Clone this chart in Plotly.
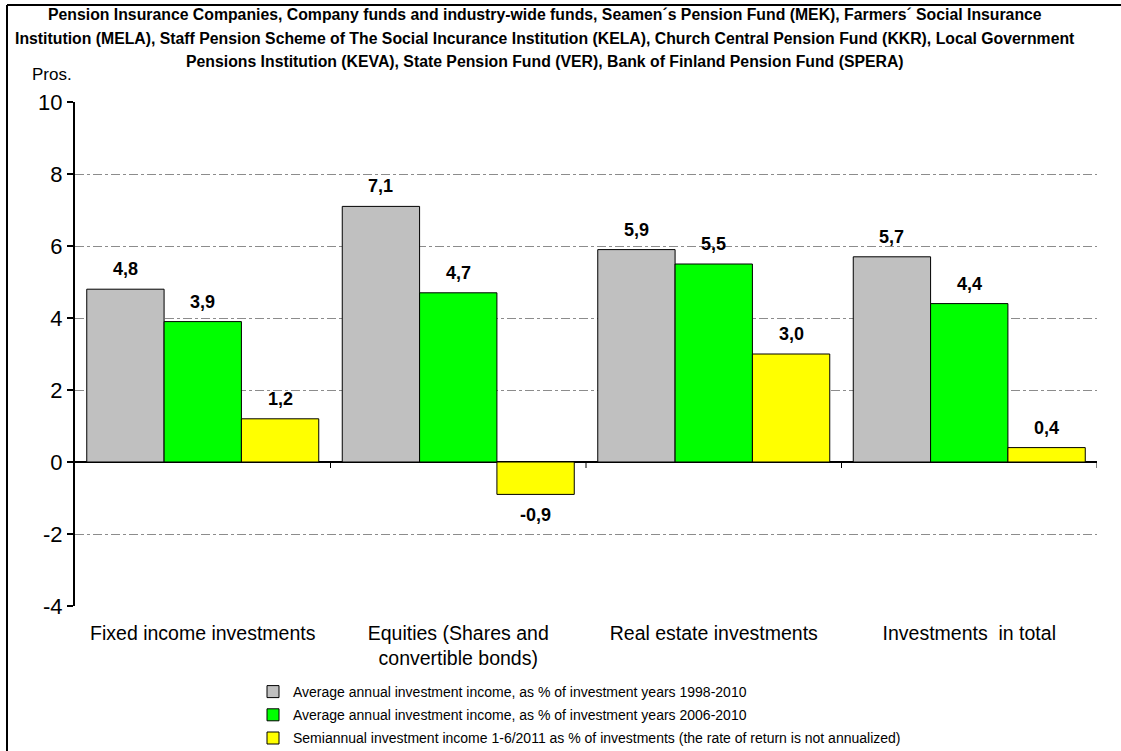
import plotly.graph_objects as go

# Data
CATEGORIES = [
    "Fixed income investments",
    "Equities (Shares and<br>convertible bonds)",
    "Real estate investments",
    "Investments  in total",
]
SERIES_NAMES = [
    "Average annual investment income, as % of investment years 1998-2010",
    "Average annual investment income, as % of investment years 2006-2010",
    "Semiannual investment income 1-6/2011 as % of investments (the rate of return is not annualized)",
]
AVG_1998_2010 = [4.8, 7.1, 5.9, 5.7]
AVG_2006_2010 = [3.9, 4.7, 5.5, 4.4]
H1_2011 = [1.2, -0.9, 3.0, 0.4]
Y_TICKS = [-4, -2, 0, 2, 4, 6, 8, 10]

TITLE_LINES = [
    "Pension Insurance Companies, Company funds and industry-wide funds, Seamen´s Pension Fund (MEK), Farmers´ Social Insurance",
    "Institution (MELA), Staff Pension Scheme of The Social Incurance Institution (KELA), Church Central Pension Fund (KKR), Local Government",
    "Pensions Institution (KEVA), State Pension Fund (VER), Bank of Finland Pension Fund (SPERA)",
]

COLORS = ["#C0C0C0", "#00FF00", "#FFFF00"]
FONT = "Liberation Sans"
BARGAP = 0.092

W, H = 1121, 751
M = dict(l=75, r=24, t=102, b=145, autoexpand=False)
plot_h = H - M["t"] - M["b"]
plot_w = W - M["l"] - M["r"]

# paper <-> pixel helpers for the frame, title and axis ticks
px_x = lambda p: (p - M["l"]) / plot_w
px_y = lambda p: (H - M["b"] - p) / plot_h

fig = go.Figure()
series = [AVG_1998_2010, AVG_2006_2010, H1_2011]
for name, vals, col in zip(SERIES_NAMES, series, COLORS):
    fig.add_trace(go.Bar(
        x=CATEGORIES, y=vals, name=name, legendgroup=name,
        marker=dict(color=col, line=dict(color="#000000", width=1)),
        hoverinfo="y",
    ))

# value labels above / below each bar
bw = (1 - BARGAP) / len(series)
annotations = []
for k, vals in enumerate(series):
    for i, v in enumerate(vals):
        annotations.append(dict(
            x=i + (k - (len(series) - 1) / 2) * bw, y=v, xref="x", yref="y",
            text=f"{v:.1f}".replace(".", ","), showarrow=False,
            yanchor="bottom" if v >= 0 else "top",
            yshift=8 if v >= 0 else -9,
            font=dict(family=FONT, size=18, color="#000000", weight="bold"),
        ))

for j, line in enumerate(TITLE_LINES):
    annotations.append(dict(
        x=px_x(545), y=px_y(15 + 23 * j), xref="paper", yref="paper",
        xanchor="center", yanchor="middle", showarrow=False, text=line,
        font=dict(family=FONT, size=15.8, color="#000000", weight="bold"),
    ))
annotations.append(dict(
    x=px_x(52), y=px_y(75), xref="paper", yref="paper", showarrow=False,
    xanchor="center", yanchor="middle",
    text="Pros.", font=dict(family=FONT, size=17, color="#000000"),
))

shapes = [
    dict(type="line", xref="paper", yref="paper", x0=px_x(7), x1=px_x(W), y0=px_y(5), y1=px_y(5),
         line=dict(color="#000000", width=2)),
    dict(type="line", xref="paper", yref="paper", x0=px_x(7), x1=px_x(7), y0=px_y(5), y1=px_y(H),
         line=dict(color="#000000", width=2)),
]
# category boundary ticks on the zero line
for i in range(len(CATEGORIES)):
    shapes.append(dict(type="line", xref="x", yref="y", x0=i + 0.5, x1=i + 0.5,
                       y0=0, y1=-6 / plot_h * (Y_TICKS[-1] - Y_TICKS[0]),
                       line=dict(color="#000000", width=1)))

fig.update_layout(
    width=W, height=H,
    margin=M,
    paper_bgcolor="#FFFFFF", plot_bgcolor="#FFFFFF",
    font=dict(family=FONT, color="#000000"),
    barmode="group", bargap=BARGAP, bargroupgap=0,
    xaxis=dict(
        showline=False, showgrid=False, ticks="", zeroline=False,
        tickfont=dict(family=FONT, size=19.5, color="#000000"),
        ticklabelstandoff=13, range=[-0.5, len(CATEGORIES) - 0.5],
    ),
    yaxis=dict(
        range=[Y_TICKS[0], Y_TICKS[-1]], tickvals=Y_TICKS,
        ticktext=[str(t) for t in Y_TICKS],
        showline=True, linecolor="#000000", linewidth=2,
        ticks="outside", ticklen=6, tickcolor="#000000", tickwidth=2,
        showgrid=True, gridcolor="#8C8C8C", griddash="dashdot", gridwidth=1,
        zeroline=True, zerolinecolor="#000000", zerolinewidth=2,
        tickfont=dict(family=FONT, size=22, color="#000000"),
    ),
    legend=dict(
        orientation="v", x=px_x(253), xanchor="left", y=px_y(676), yanchor="top",
        font=dict(family=FONT, size=14, color="#000000"),
        bgcolor="rgba(0,0,0,0)", borderwidth=0, tracegroupgap=2,
        itemwidth=30,
    ),
    annotations=annotations,
    shapes=shapes,
    showlegend=True,
)

# drop the default 8px page margin so the figure sits at the window origin
fig.write_html("out.html", config={"displayModeBar": False},
               post_script="document.body.style.margin='0';")
